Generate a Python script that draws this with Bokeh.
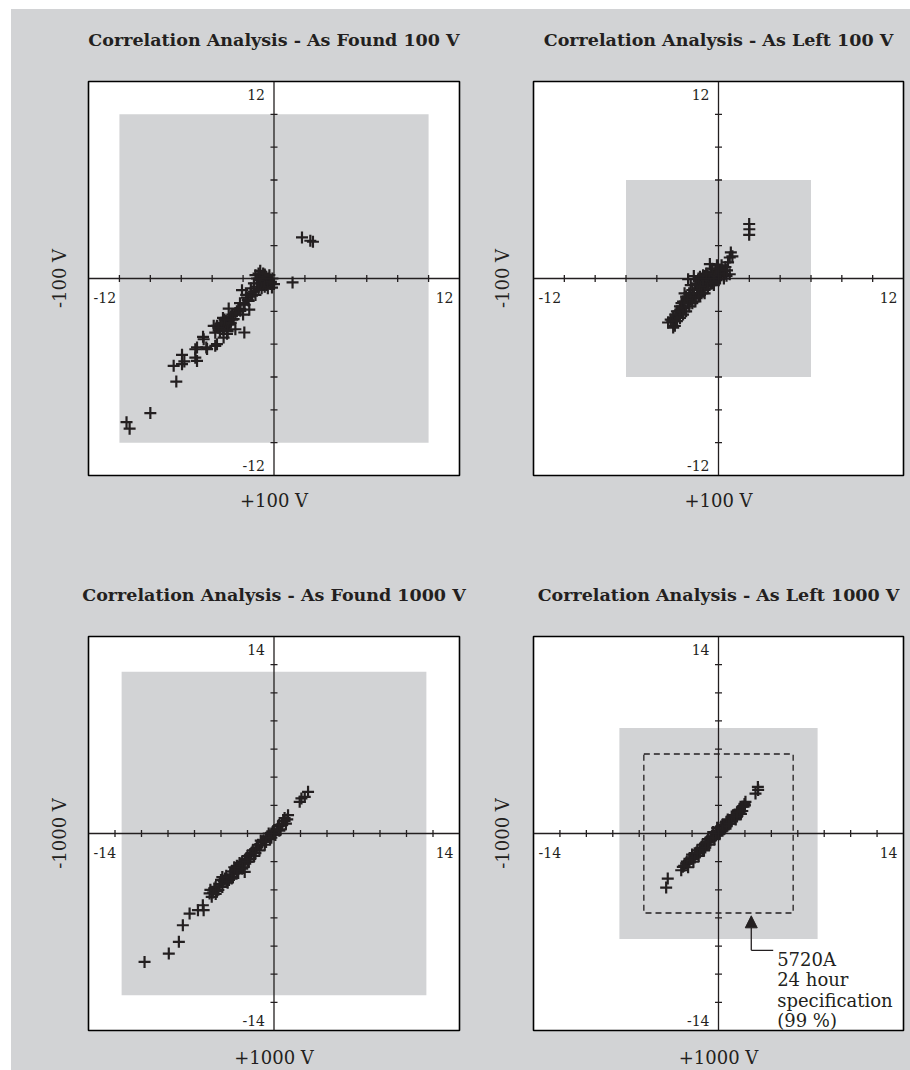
import math
from bokeh.plotting import figure
from bokeh.models import (FixedTicker, Label, Arrow, NormalHead, Range1d, ColumnDataSource,
                          LinearAxis, Span)
from bokeh.layouts import column, row
from bokeh.embed import file_html
from bokeh.resources import INLINE

BG = "#d2d3d5"
INK = "#231f20"
SERIF = "DejaVu Serif"

# ---------------- texts ----------------
titles = ["Correlation Analysis - As Found 100 V",
          "Correlation Analysis - As Left 100 V",
          "Correlation Analysis - As Found 1000 V",
          "Correlation Analysis - As Left 1000 V"]
x_labels = ["+100 V", "+100 V", "+1000 V", "+1000 V"]
y_labels = ["-100 V", "-100 V", "-1000 V", "-1000 V"]

# axis extents (+/-) and tick marks
axis_limits = [12, 12, 14, 14]
ticks_100 = [-10, -8, -6, -4, -2, 2, 4, 6, 8, 10]
ticks_1000 = [-12, -10, -8, -6, -4, -2, 2, 4, 6, 8, 10, 12]
end_labels_100 = ["-12", "12"]
end_labels_1000 = ["-14", "14"]

# shaded acceptance square (+/-) per panel, and 5720A 24 h spec (+/-)
spec_limits = [10, 6, 11.5, 7.5]
spec_24h = 5.65

# callout for the 5720A spec
callout_lines = ["5720A", "24 hour", "specification", "(99 %)"]
callout_arrow_x = 2.48
callout_elbow_y = -8.3
callout_text_x = 4.44

# ---------------- data ----------------
af100_x = [-9.54, -9.34, -8.0, -6.32, -6.49, -5.95, -5.95, -5.8, -5.09, -5.09, -4.98, -4.98,
           -4.59, -4.38, -4.33, -4.55, -3.8, -3.69, -3.9, -3.69, -3.47, -3.26, -3.04, -3.26,
           -3.5, -3.1, -2.9, -2.61, -2.5, -2.93, -2.7, -2.4, -2.18, -2.18, -1.97, -1.92,
           -2.07, -1.75, -1.64, -1.42, -1.3, -1.2, -1.1, -0.95, -0.89, -0.8, -0.7, -1.2,
           -1.0, -0.6, -0.5, -0.4, -0.24, -0.13, 0.0, 1.2, 1.81, 2.35, 2.52, -3.3, -2.8,
           -2.0, -1.6, -3.8, -1.5,
           -1.1, -0.9, -0.7, -0.5, -0.3, -0.2, -0.6, -0.8, -1.0, -0.4, -0.1, -1.3, -1.5,
           -1.7, -1.8, -1.9, -2.2, -2.3, -2.5, -2.7, -2.9, -3.1, -3.3, -3.4, -3.6, -3.0,
           -2.8, -3.2]
af100_y = [-8.75, -9.15, -8.2, -6.28, -5.32, -4.65, -5.22, -5.05, -4.31, -4.82, -5.02, -4.2,
           -3.55, -4.2, -4.3, -3.7, -4.1, -4.0, -2.88, -2.88, -2.76, -3.0, -3.37, -3.6,
           -3.2, -2.6, -2.5, -2.48, -3.09, -1.83, -2.2, -2.0, -1.97, -1.87, -1.56, -3.29,
           -0.71, -1.16, -1.36, -1.05, -0.8, -1.0, -0.5, -0.3, 0.47, 0.1, -0.2, 0.2,
           0.3, 0.25, -0.4, -0.1, -0.34, -0.55, -0.34, -0.24, 2.5, 2.3, 2.24, -2.4, -2.3,
           -2.2, -1.9, -3.3, -0.6,
           0.0, -0.1, 0.3, 0.1, 0.2, -0.2, -0.5, -0.6, -0.7, -0.6, 0.0, -0.3, -0.9,
           -1.3, -1.0, -1.6, -1.5, -1.9, -2.1, -2.5, -2.8, -2.9, -3.1, -2.7, -3.0, -3.2,
           -2.7, -2.5]

al100_x = [1.99, 1.99, 2.0, 0.8, 0.73, 0.62, 0.9, 0.52, 0.73, 0.3, 0.45, 0.2, 0.1, 0.0,
           -0.1, -0.2, -0.3, -0.4, -0.56, -0.5, -0.6, -0.7, -0.8, -0.9, -1.0, -1.1, -1.2,
           -1.3, -1.4, -1.5, -1.6, -1.6, -1.7, -1.8, -1.9, -1.97, -2.0, -2.1, -2.2, -2.3,
           -2.4, -2.5, -2.6, -2.7, -2.83, -2.94, -2.83, -2.94, -3.27, -3.1, -1.2, -0.9,
           -0.3, -1.4, -0.2, 0.35, -0.1, -1.0, -2.0, -1.5, -2.4, -0.7,
           -0.2, -0.4, -0.6, -0.8, -1.0, -1.2, -1.4, -1.6, -1.8, -2.0, -2.2, -2.4, -2.6,
           -2.8, -3.0, -0.3, -0.5, -0.7, -0.9, -1.1, -1.3, -1.5, -1.7, -1.9, -2.1, -2.3,
           -2.5, -2.7, 0.1, 0.2, 0.4, 0.55, -0.1, -0.4, -0.8, -1.3, -1.8, -2.2]
al100_y = [3.32, 2.66, 3.0, 1.59, 1.28, 0.98, 1.35, 0.16, 0.26, 0.47, 0.7, 0.2, 0.55, 0.37,
           0.0, 0.45, 0.1, -0.2, 0.88, 0.4, -0.1, 0.2, -0.3, 0.15, -0.5, -0.2, 0.1,
           -0.6, -0.9, -0.4, 0.15, -1.0, -0.7, -1.3, -0.9, -0.04, -1.5, -1.1, -1.8, -1.4,
           -2.0, -1.7, -2.3, -2.0, -2.48, -2.38, -2.88, -2.99, -2.68, -2.5, -1.0, -0.7,
           -0.4, -0.3, -0.1, 0.0, 0.8, 0.2, -1.2, -1.2, -1.5, -0.5,
           0.3, 0.2, 0.0, -0.1, -0.3, -0.5, -0.7, -0.9, -1.1, -1.3, -1.5, -1.8, -2.0,
           -2.2, -2.6, -0.2, -0.3, -0.6, -0.9, -0.9, -1.1, -1.4, -1.5, -1.7, -2.0, -2.2,
           -2.4, -2.6, 0.0, 0.8, 0.3, 0.5, 0.6, 0.6, 0.3, 0.0, -0.4, -0.9]

af1000_x = [-9.77, -7.94, -7.18, -6.88, -6.37, -5.74, -5.37, -5.31, 2.57, 2.32, 1.94, 2.07,
            -4.86, -4.7, -4.5, -4.3, -4.1, -3.9, -3.7, -3.5, -3.3, -3.1, -2.9, -2.7,
            -2.5, -2.3, -2.21, -2.1, -1.9, -1.7, -1.5, -1.3, -1.1, -0.9, -0.7, -0.5,
            -0.3, -0.1, 0.1, 0.3, 0.5, 0.7, 0.9, 1.06, -4.0, -3.6, -3.0, -2.6,
            -2.0, -1.6, -1.2, -0.8, -0.4, 0.2, 0.6, -4.6, -3.4, -2.8,
            -4.8, -4.4, -4.2, -3.8, -3.6, -3.2, -3.2, -2.8, -2.6, -2.4, -2.4, -2.2,
            -2.0, -1.8, -1.8, -1.4, -1.4, -1.0, -1.0, -0.6, -0.6, -0.2, -0.2, 0.0,
            0.4, 0.4, 0.8, 0.8, 1.0, -3.0, -4.4, -3.9]
af1000_y = [-9.13, -8.53, -7.7, -6.52, -5.69, -5.45, -5.1, -5.45, 2.96, 2.6, 2.25, 2.49,
            -4.26, -4.5, -3.9, -4.1, -3.6, -3.8, -3.2, -3.5, -2.9, -3.1, -2.5, -2.8,
            -2.2, -2.4, -2.73, -1.8, -2.0, -1.4, -1.6, -1.0, -1.2, -0.6, -0.8, -0.2,
            -0.4, 0.1, -0.1, 0.5, 0.3, 0.9, 0.7, 1.3, -3.3, -3.0, -2.7, -2.5,
            -1.6, -1.2, -0.8, -0.5, 0.0, 0.3, 0.6, -4.2, -3.3, -2.3,
            -4.0, -3.8, -4.0, -3.4, -3.4, -2.7, -3.2, -2.6, -2.1, -2.0, -2.5, -1.9,
            -2.0, -1.5, -1.8, -1.1, -1.4, -0.8, -0.5, -0.3, -0.6, 0.0, -0.3, 0.2,
            0.6, 0.2, 0.9, 1.1, 1.0, -2.4, -4.3, -3.1]

al1000_x = [2.98, 2.8, 3.0, 2.04, 1.97, -3.84, -3.96, -2.82, -2.7, -2.45, -2.3, -2.1, -1.9,
            -1.7, -1.5, -1.3, -1.1, -0.9, -0.7, -0.5, -0.3, -0.1, 0.1, 0.3, 0.5, 0.7, 0.9,
            1.1, 1.3, 1.5, 1.7, 1.9, -2.0, -1.6, -1.2, -0.8, -0.4, 0.0, 0.4, 0.8, 1.2, 1.6,
            -2.2, -1.4, -0.6, 0.2, 1.0, -0.2, 0.6,
            -2.4, -2.2, -2.0, -1.8, -1.8, -1.6, -1.4, -1.2, -1.0, -1.0, -0.8, -0.6, -0.4,
            -0.2, 0.0, 0.2, 0.4, 0.6, 0.8, 1.0, 1.2, 1.4, 1.4, 1.6, 1.8, 2.0, 1.8, -2.6,
            -0.1, 0.3]
al1000_y = [3.31, 2.84, 3.1, 2.25, 2.1, -3.2, -3.84, -2.61, -2.37, -2.13, -2.4, -1.8, -2.0,
            -1.4, -1.6, -1.0, -1.2, -0.6, -0.8, -0.2, -0.4, 0.2, 0.0, 0.6, 0.4, 1.0, 0.7,
            1.3, 1.0, 1.6, 1.4, 1.9, -1.5, -1.2, -0.8, -0.4, 0.1, 0.4, 0.3, 0.9, 1.1, 1.5,
            -2.0, -1.3, -0.5, 0.2, 0.9, -0.1, 0.8,
            -2.0, -1.8, -1.8, -1.7, -1.4, -1.4, -1.1, -1.1, -0.7, -1.0, -0.6, -0.3, -0.3,
            0.1, 0.1, 0.5, 0.6, 0.5, 0.7, 1.2, 1.3, 1.2, 1.5, 1.7, 1.6, 2.0, 1.9, -2.3,
            0.4, 0.2]

series = [(af100_x, af100_y), (al100_x, al100_y), (af1000_x, af1000_y), (al1000_x, al1000_y)]
tick_sets = [ticks_100, ticks_100, ticks_1000, ticks_1000]
end_label_sets = [end_labels_100, end_labels_100, end_labels_1000, end_labels_1000]

FRAME_H = 394


def label_axis(text, size, style, standoff):
    """An axis that carries only a name (no line, ticks or tick labels)."""
    return LinearAxis(ticker=FixedTicker(ticks=[]), axis_label=text,
                      axis_label_text_font=SERIF, axis_label_text_font_size=size,
                      axis_label_text_font_style=style, axis_label_text_color=INK,
                      axis_label_standoff=standoff, axis_line_color=None,
                      major_tick_line_color=None, minor_tick_line_color=None,
                      major_tick_in=0, major_tick_out=0, minor_tick_in=0, minor_tick_out=0,
                      major_label_standoff=0)


def make_panel(i, bl, br, bt, bb, fw, title_so, xlab_so, ylab_so):
    lim = axis_limits[i]
    p = figure(frame_width=fw, frame_height=FRAME_H,
               x_range=Range1d(-lim, lim), y_range=Range1d(-lim, lim),
               x_axis_location=None, y_axis_location=None,
               output_backend="svg", toolbar_location=None,
               min_border_left=bl, min_border_right=br,
               min_border_top=bt, min_border_bottom=bb)
    p.border_fill_color = BG
    p.background_fill_color = "white"
    p.outline_line_color = "black"
    p.outline_line_width = 1.6
    p.grid.visible = False

    # shaded acceptance square
    s = spec_limits[i]
    p.quad(left=[-s], right=[s], bottom=[-s], top=[s], fill_color=BG, line_color=None)

    # crossing axes through the origin with small crossing tick marks
    t = tick_sets[i]
    p.scatter(x=t, y=[0] * len(t), marker="dash", angle=math.pi / 2, size=7,
              line_color=INK, line_width=1.3)
    p.scatter(x=[0] * len(t), y=t, marker="dash", size=7,
              line_color=INK, line_width=1.3)
    p.add_layout(Span(location=0, dimension="width", line_color=INK, line_width=1.3))
    p.add_layout(Span(location=0, dimension="height", line_color=INK, line_width=1.3))

    if i == 3:
        p.quad(left=[-spec_24h], right=[spec_24h], bottom=[-spec_24h], top=[spec_24h],
               fill_color=None, line_color=INK, line_width=1.3, line_dash="6 4")
        p.add_layout(Arrow(end=NormalHead(size=12, fill_color=INK, line_color=INK),
                           x_start=callout_arrow_x, y_start=callout_elbow_y,
                           x_end=callout_arrow_x, y_end=-spec_24h - 0.2,
                           line_color=INK, line_width=1.3))
        p.segment(x0=[callout_arrow_x], y0=[callout_elbow_y],
                  x1=[callout_text_x - 0.3], y1=[callout_elbow_y],
                  line_color=INK, line_width=1.3)
        for k, txt in enumerate(callout_lines):
            p.add_layout(Label(x=callout_text_x, y=callout_elbow_y, text=txt,
                               y_offset=-9 - 20.5 * k, text_baseline="alphabetic",
                               text_align="left", text_font=SERIF, text_font_size="18px",
                               text_color=INK))

    xs, ys = series[i]
    src = ColumnDataSource(dict(x=xs, y=ys))
    p.scatter("x", "y", source=src, marker="cross", size=12, line_width=2.2,
              line_color=INK)

    lo, hi = end_label_sets[i]
    lab = dict(text_font=SERIF, text_font_size="14px", text_color=INK)
    p.add_layout(Label(x=0, y=lim, text=hi, x_offset=-9, y_offset=-7,
                       text_align="right", text_baseline="top", **lab))
    p.add_layout(Label(x=0, y=-lim, text=lo, x_offset=-9, y_offset=5,
                       text_align="right", text_baseline="bottom", **lab))
    p.add_layout(Label(x=-lim, y=0, text=lo, x_offset=5, y_offset=-13,
                       text_align="left", text_baseline="top", **lab))
    p.add_layout(Label(x=lim, y=0, text=hi, x_offset=-6, y_offset=-13,
                       text_align="right", text_baseline="top", **lab))

    # panel title above the frame, axis names below / left of it
    p.add_layout(label_axis(titles[i], "17.5px", "bold", title_so), "above")
    p.add_layout(label_axis(x_labels[i], "18px", "normal", xlab_so), "below")
    p.add_layout(label_axis(y_labels[i], "18px", "normal", ylab_so), "left")
    return p


p1 = make_panel(0, 77, 29, 72, 50, 371, 32, 14, 19)
p2 = make_panel(1, 45, 7, 72, 50, 370, 32, 14, 21)
p3 = make_panel(2, 77, 29, 111, 40, 371, 32, 16, 19)
p4 = make_panel(3, 45, 7, 111, 40, 370, 32, 16, 21)

bg = {"background-color": BG}
layout = column(row(p1, p2, spacing=0, styles=bg),
                row(p3, p4, spacing=0, styles=bg),
                spacing=0, styles=bg, margin=(9, 0, 0, 11))

open("out.html", "w").write(file_html(layout, INLINE))
